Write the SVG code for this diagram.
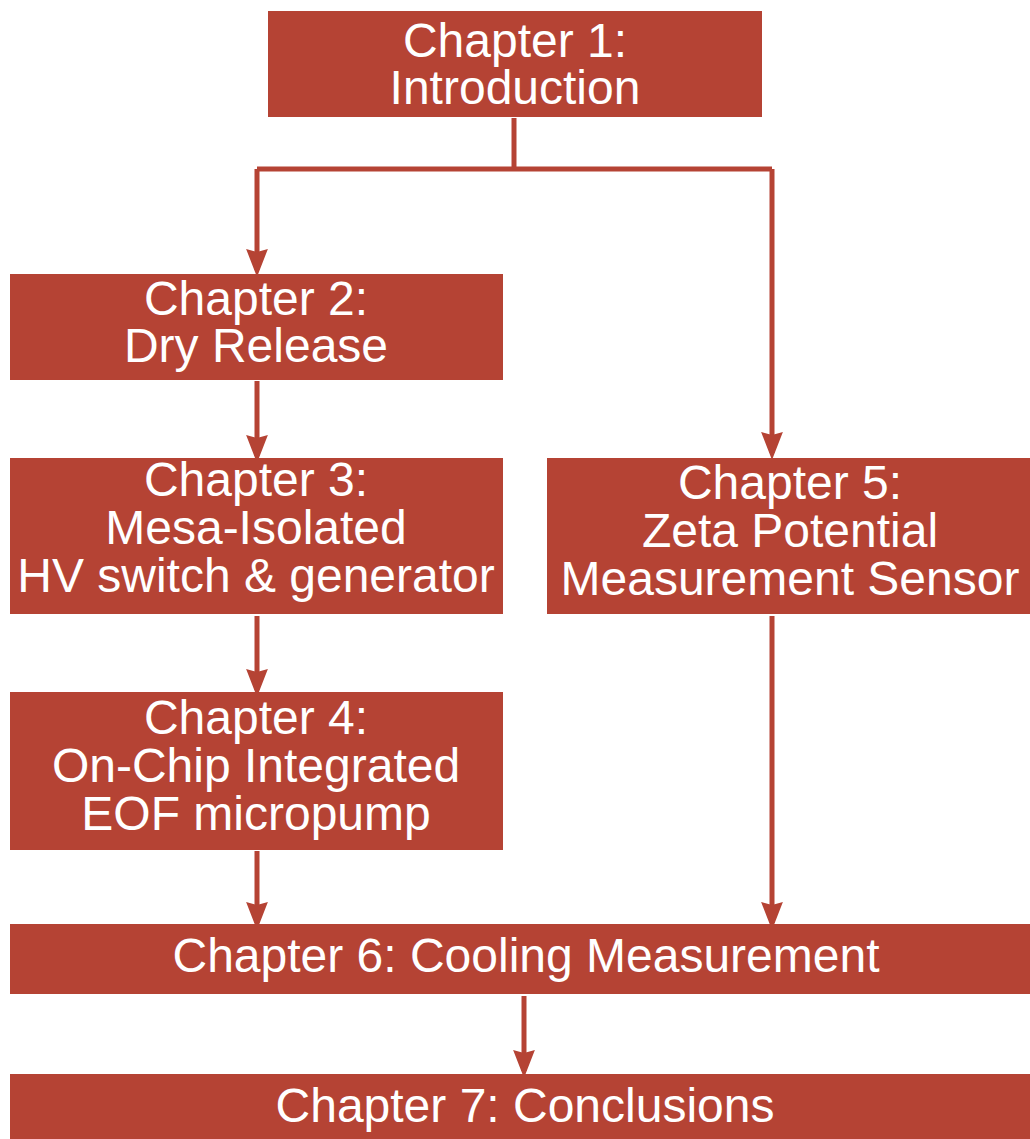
<svg xmlns="http://www.w3.org/2000/svg" width="1030" height="1139" viewBox="0 0 1030 1139">
<style>
.box{fill:#B54334}
.t{font-family:"Liberation Sans",Arial,sans-serif;font-size:48px;fill:#fff;text-anchor:middle}
.c{fill:none;stroke:#B54334;stroke-width:5}
</style>
<defs>
<marker id="ah" markerUnits="userSpaceOnUse" markerWidth="28" markerHeight="36" refX="27" refY="14" orient="auto" viewBox="0 0 36 28">
<path d="M0,0 L36,14 L0,28 L4,14 Z" fill="#B54334"/>
</marker>
</defs>
<rect width="1030" height="1139" fill="#fff"/>
<g id="connectors">
<path class="c" d="M514,118 V169"/>
<path class="c" d="M257,169 H772"/>
<path class="c" d="M257,169 V270" marker-end="url(#ah)"/>
<path class="c" d="M772,169 V453" marker-end="url(#ah)"/>
<path class="c" d="M257,381 V456" marker-end="url(#ah)"/>
<path class="c" d="M257,616 V690" marker-end="url(#ah)"/>
<path class="c" d="M257,851 V923" marker-end="url(#ah)"/>
<path class="c" d="M772,616 V923" marker-end="url(#ah)"/>
<path class="c" d="M524,996 V1071" marker-end="url(#ah)"/>
</g>
<g id="ch1"><rect class="box" x="268" y="11" width="494" height="106"/><text class="t" x="515" y="57">Chapter 1:</text><text class="t" x="515" y="104">Introduction</text></g>
<g id="ch2"><rect class="box" x="10" y="274" width="493" height="106"/><text class="t" x="256" y="315">Chapter 2:</text><text class="t" x="256" y="362">Dry Release</text></g>
<g id="ch3"><rect class="box" x="10" y="458" width="493" height="156"/><text class="t" x="256" y="496">Chapter 3:</text><text class="t" x="256" y="544">Mesa-Isolated</text><text class="t" x="256" y="592">HV switch &amp; generator</text></g>
<g id="ch5"><rect class="box" x="547" y="458" width="483" height="156"/><text class="t" x="790" y="499">Chapter 5:</text><text class="t" x="790" y="547">Zeta Potential</text><text class="t" x="790" y="595">Measurement Sensor</text></g>
<g id="ch4"><rect class="box" x="10" y="692" width="493" height="158"/><text class="t" x="256" y="734">Chapter 4:</text><text class="t" x="256" y="782">On-Chip Integrated</text><text class="t" x="256" y="830">EOF micropump</text></g>
<g id="ch6"><rect class="box" x="10" y="924" width="1020" height="70"/><text class="t" x="526" y="972">Chapter 6: Cooling Measurement</text></g>
<g id="ch7"><rect class="box" x="10" y="1074" width="1020" height="65"/><text class="t" x="525" y="1122">Chapter 7: Conclusions</text></g>
</svg>
